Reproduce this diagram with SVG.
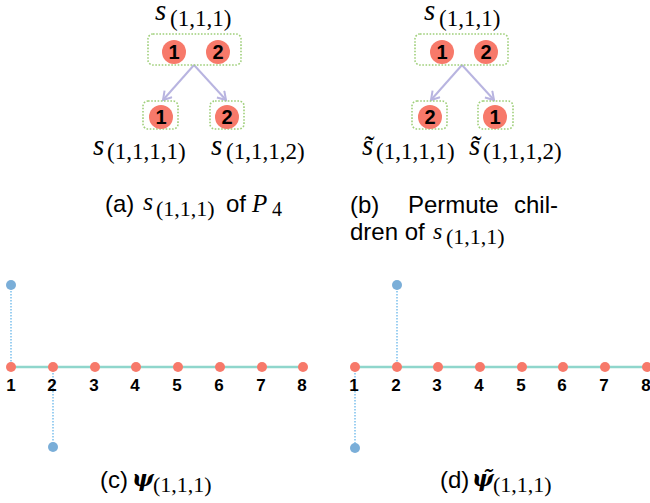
<svg xmlns="http://www.w3.org/2000/svg" width="650" height="503" viewBox="0 0 650 503">
<defs>
<style>
.box{fill:none;stroke:#9fcf7a;stroke-width:1.6;stroke-dasharray:1.6 1.6}
.rc{fill:#f7796a}
.dg{font-family:"Liberation Sans",Arial,sans-serif;font-weight:bold;font-size:20px;fill:#000;text-anchor:middle}
.arr{stroke:#b8b4e0;stroke-width:2;fill:none}
.mi{font-family:"Liberation Serif","Times New Roman",serif;font-style:italic;fill:#000}
.mr{font-family:"Liberation Serif","Times New Roman",serif;fill:#000}
.psi{font-family:"DejaVu Serif",serif;font-style:italic;font-weight:bold;font-size:23px;fill:#000}
.cap{font-family:"Liberation Sans",Arial,sans-serif;font-size:24px;fill:#000}
.sp{stroke:#8fd6cc;stroke-width:2.5}
.dot{stroke:#5ab0e8;stroke-width:1.2;stroke-dasharray:1.5 1.5}
.rn{fill:#f7796a}
.bn{fill:#7aaed8}
.nl{font-family:"Liberation Sans",Arial,sans-serif;font-weight:bold;font-size:17px;fill:#000;text-anchor:middle}
</style>
<marker id="ah" markerWidth="12" markerHeight="12" refX="9" refY="6" orient="auto" markerUnits="userSpaceOnUse">
<path d="M1,1 L9,6 L1,11" fill="none" stroke="#b8b4e0" stroke-width="2"/>
</marker>
</defs>
<rect width="650" height="503" fill="#fff"/>

<!-- Panel (a) -->
<g id="a-connectors">
<line class="arr" x1="194" y1="65" x2="163" y2="100" marker-end="url(#ah)"/>
<line class="arr" x1="194" y1="65" x2="226" y2="100" marker-end="url(#ah)"/>
</g>
<g id="a-top">
<text class="mi" x="155" y="20" font-size="29">s</text>
<text class="mr" x="170" y="26" font-size="23">(1,1,1)</text>
<rect class="box" x="148" y="34" width="93" height="31" rx="5"/>
<circle class="rc" cx="174" cy="52" r="12"/>
<text class="dg" x="174" y="59">1</text>
<circle class="rc" cx="218" cy="52" r="12"/>
<text class="dg" x="218" y="59">2</text>
</g>
<g id="a-child1">
<rect class="box" x="143" y="101" width="35" height="28" rx="5"/>
<circle class="rc" cx="161" cy="117" r="12"/>
<text class="dg" x="161" y="124">1</text>
<text class="mi" x="93" y="155" font-size="29">s</text>
<text class="mr" x="107" y="159" font-size="23">(1,1,1,1)</text>
</g>
<g id="a-child2">
<rect class="box" x="210" y="101" width="34" height="28" rx="5"/>
<circle class="rc" cx="227" cy="117" r="12"/>
<text class="dg" x="227" y="124">2</text>
<text class="mi" x="211" y="155" font-size="29">s</text>
<text class="mr" x="226" y="159" font-size="23">(1,1,1,2)</text>
</g>
<g id="a-caption">
<text class="cap" x="105" y="212">(a)</text>
<text class="mi" x="143" y="210" font-size="26">s</text>
<text class="mr" x="156" y="216" font-size="22">(1,1,1)</text>
<text class="cap" x="226" y="212">of</text>
<text class="mi" x="252" y="212" font-size="25">P</text>
<text class="mr" x="272" y="216" font-size="20">4</text>
</g>

<!-- Panel (b) -->
<g id="b-connectors">
<line class="arr" x1="462" y1="65" x2="431" y2="100" marker-end="url(#ah)"/>
<line class="arr" x1="462" y1="65" x2="494" y2="100" marker-end="url(#ah)"/>
</g>
<g id="b-top">
<text class="mi" x="424" y="20" font-size="29">s</text>
<text class="mr" x="439" y="26" font-size="23">(1,1,1)</text>
<rect class="box" x="415" y="34" width="93" height="31" rx="5"/>
<circle class="rc" cx="442" cy="52" r="12"/>
<text class="dg" x="442" y="59">1</text>
<circle class="rc" cx="486" cy="52" r="12"/>
<text class="dg" x="486" y="59">2</text>
</g>
<g id="b-child1">
<rect class="box" x="412" y="101" width="35" height="28" rx="5"/>
<circle class="rc" cx="430" cy="117" r="12"/>
<text class="dg" x="430" y="124">2</text>
<text class="mi" x="362" y="155" font-size="29">s̃</text>
<text class="mr" x="376" y="159" font-size="23">(1,1,1,1)</text>
</g>
<g id="b-child2">
<rect class="box" x="478" y="101" width="35" height="28" rx="5"/>
<circle class="rc" cx="495" cy="117" r="12"/>
<text class="dg" x="495" y="124">1</text>
<text class="mi" x="469" y="155" font-size="29">s̃</text>
<text class="mr" x="483" y="159" font-size="23">(1,1,1,2)</text>
</g>
<g id="b-caption">
<text class="cap" x="350" y="213">(b)</text>
<text class="cap" x="408" y="213">Permute</text>
<text class="cap" x="558" y="213" text-anchor="end">chil-</text>
<text class="cap" x="350" y="240">dren of</text>
<text class="mi" x="433" y="239" font-size="24">s</text>
<text class="mr" x="446" y="244" font-size="22">(1,1,1)</text>
</g>

<!-- Panel (c) -->
<g id="c-connectors">
<line class="sp" x1="11" y1="367" x2="303" y2="367"/>
<line class="dot" x1="11" y1="285" x2="11" y2="367"/>
<line class="dot" x1="53" y1="367" x2="53" y2="447"/>
</g>
<g id="c-nodes">
<circle class="bn" cx="11" cy="285" r="5"/>
<circle class="bn" cx="53" cy="447" r="5"/>
<circle class="rn" cx="11" cy="367" r="5"/><text class="nl" x="11" y="391">1</text>
<circle class="rn" cx="53" cy="367" r="5"/><text class="nl" x="52" y="391">2</text>
<circle class="rn" cx="95" cy="367" r="5"/><text class="nl" x="94" y="391">3</text>
<circle class="rn" cx="136" cy="367" r="5"/><text class="nl" x="135" y="391">4</text>
<circle class="rn" cx="178" cy="367" r="5"/><text class="nl" x="177" y="391">5</text>
<circle class="rn" cx="220" cy="367" r="5"/><text class="nl" x="219" y="391">6</text>
<circle class="rn" cx="262" cy="367" r="5"/><text class="nl" x="261" y="391">7</text>
<circle class="rn" cx="303" cy="367" r="5"/><text class="nl" x="302" y="391">8</text>
</g>
<g id="c-caption">
<text class="cap" x="100" y="488">(c)</text>
<text class="psi" x="132" y="486">ψ</text>
<text class="mr" x="153" y="492" font-size="22">(1,1,1)</text>
</g>

<!-- Panel (d) -->
<g id="d-connectors">
<line class="sp" x1="355" y1="367" x2="650" y2="367"/>
<line class="dot" x1="397" y1="285" x2="397" y2="367"/>
<line class="dot" x1="355" y1="367" x2="355" y2="448"/>
</g>
<g id="d-nodes">
<circle class="bn" cx="397" cy="285" r="5"/>
<circle class="bn" cx="355" cy="448" r="5"/>
<circle class="rn" cx="355" cy="367" r="5"/><text class="nl" x="354" y="391">1</text>
<circle class="rn" cx="397" cy="367" r="5"/><text class="nl" x="396" y="391">2</text>
<circle class="rn" cx="438" cy="367" r="5"/><text class="nl" x="437" y="391">3</text>
<circle class="rn" cx="480" cy="367" r="5"/><text class="nl" x="479" y="391">4</text>
<circle class="rn" cx="522" cy="367" r="5"/><text class="nl" x="521" y="391">5</text>
<circle class="rn" cx="563" cy="367" r="5"/><text class="nl" x="562" y="391">6</text>
<circle class="rn" cx="605" cy="367" r="5"/><text class="nl" x="604" y="391">7</text>
<circle class="rn" cx="647" cy="367" r="5"/><text class="nl" x="646" y="391">8</text>
</g>
<g id="d-caption">
<text class="cap" x="440" y="488">(d)</text>
<text class="psi" x="472" y="486">ψ̃</text>
<text class="mr" x="493" y="492" font-size="22">(1,1,1)</text>
</g>
</svg>
